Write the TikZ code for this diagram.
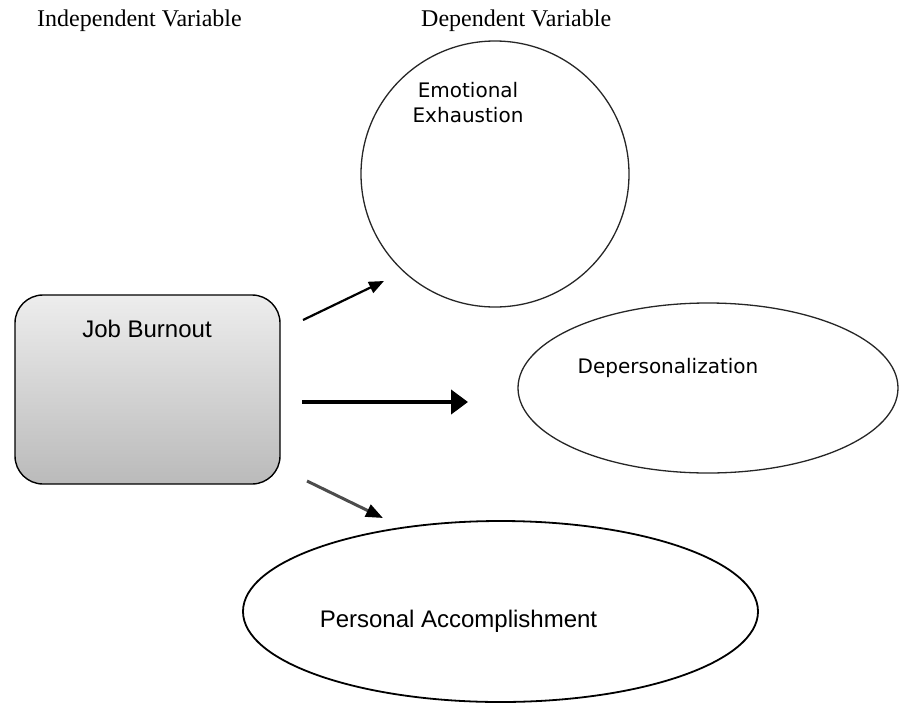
\documentclass[tikz,border=0pt]{standalone}
\usepackage{fontspec}
\setmainfont{Liberation Serif}
\newfontfamily\arialfont{Liberation Sans}
\newfontfamily\verdfont{DejaVu Sans}
\usetikzlibrary{shapes.geometric,arrows.meta}

\begin{document}
\begin{tikzpicture}[x=1pt,y=-1pt]
    % Define styles
    \tikzstyle{heading} = [font=\fontsize{24}{28}\selectfont, inner sep=0pt, anchor=base west]
    \tikzstyle{oval} = [ellipse, draw=black!85, line width=1.3pt, inner sep=0pt]
    \tikzstyle{ovaltext} = [font=\verdfont\fontsize{20}{25}\selectfont, align=center, inner sep=0pt, anchor=base]
    \tikzstyle{bigtext} = [font=\arialfont\fontsize{24}{28}\selectfont, inner sep=0pt, anchor=base]
    \tikzstyle{ivbox} = [rectangle, rounded corners=28pt, draw=black, line width=1.4pt, top color=black!7, bottom color=black!27, minimum width=265pt, minimum height=189pt]
    \tikzstyle{link} = [-{Triangle[length=15pt,width=12pt]}, line width=2.2pt]

    \useasboundingbox (0,0) rectangle (899,704);

    % Headings
    \node[heading] (ivhead) at (37,27) {Independent Variable};
    \node[heading] (dvhead) at (421,27) {Dependent Variable};

    % Independent variable
    \node[ivbox] (burnout) at (147.5,389.5) {};
    \node[bigtext] (burnouttxt) at (147,337) {Job Burnout};

    % Dependent variables
    \node[oval, minimum width=268pt, minimum height=266pt] (emo) at (495,174) {};
    \node[ovaltext] (emotxt) at (468,122) {Emotional\\Exhaustion};
    \node[oval, minimum width=380pt, minimum height=170pt] (deper) at (708,388) {};
    \node[ovaltext] (depertxt) at (668,373) {Depersonalization};
    \node[oval, draw=black, line width=1.8pt, minimum width=515pt, minimum height=181pt] (pers) at (500.5,611.5) {};
    \node[bigtext] (perstxt) at (458.5,627) {Personal Accomplishment};

    % Arrows
    \coordinate (emoin) at (384,281);
    \coordinate (burnoutup) at (303,320);
    \coordinate (deperin) at (468,402);
    \coordinate (burnoutmid) at (302,402);
    \coordinate (persin) at (383,518);
    \coordinate (burnoutlow) at (307,481);
    \draw[link] (burnoutup) -- (emoin);
    \draw[link, line width=4.5pt, -{Triangle[length=17pt,width=24pt]}] (burnoutmid) -- (deperin);
    \draw[link, draw=black!70, line width=3pt, -{Triangle[length=17pt,width=13pt,color=black]}] (burnoutlow) -- (persin);

\end{tikzpicture}
\end{document}
